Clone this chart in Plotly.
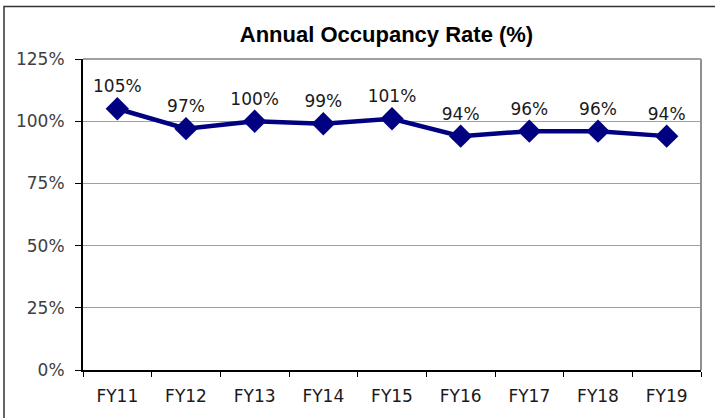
import plotly.graph_objects as go

categories = ["FY11", "FY12", "FY13", "FY14", "FY15", "FY16", "FY17", "FY18", "FY19"]
occupancy = [105, 97, 100, 99, 101, 94, 96, 96, 94]
labels = [f"{v}%" for v in occupancy]
y_ticks = [0, 25, 50, 75, 100, 125]
y_tick_labels = [f"{v}%" for v in y_ticks]

W, H = 715, 418
L, R, T, B = 83, 14, 59, 45
pw, ph = W - L - R, H - T - B

FONT = "DejaVu Sans"

fig = go.Figure()
fig.add_trace(go.Scatter(
    x=categories, y=occupancy, mode="lines+markers+text",
    text=labels, textposition="top center",
    textfont=dict(family=FONT, size=17, color="#1a1a1a"),
    line=dict(color="#000080", width=4.5),
    marker=dict(symbol="diamond", size=18, color="#000080"),
    cliponaxis=False, showlegend=False,
))

fig.update_layout(
    width=W, height=H,
    margin=dict(l=L, r=R, t=T, b=B),
    paper_bgcolor="white", plot_bgcolor="white",
    title=dict(text="<b>Annual Occupancy Rate (%)</b>", x=386.5 / W, xanchor="center",
               y=1 - 34 / H, yanchor="middle",
               font=dict(family="Liberation Sans", size=22, color="black")),
    xaxis=dict(
        type="category", range=[-0.5, 8.5],
        showline=True, linecolor="black", linewidth=2,
        ticks="outside", ticklen=5, tickcolor="black", tickson="boundaries",
        showgrid=False, mirror=False, ticklabelstandoff=10,
        tickfont=dict(family=FONT, size=17, color="#1a1a1a"),
    ),
    yaxis=dict(
        range=[0, 125], tickvals=y_ticks, ticktext=y_tick_labels,
        showline=True, linecolor="black", linewidth=2,
        ticks="outside", ticklen=6, tickcolor="black",
        showgrid=True, gridcolor="#a0a0a0", gridwidth=1,
        zeroline=False, ticklabelstandoff=7,
        tickfont=dict(family=FONT, size=17, color="#404040"),
    ),
    shapes=[
        dict(type="line", xref="paper", yref="paper", x0=1, x1=1, y0=0, y1=1,
             line=dict(color="#909090", width=2)),
        dict(type="line", xref="paper", yref="paper", x0=0, x1=1, y0=1, y1=1,
             line=dict(color="#a0a0a0", width=2)),
        dict(type="rect", xref="paper", yref="paper",
             x0=(4 - L) / pw, x1=(725 - L) / pw,
             y0=(H - B - 430) / ph, y1=(H - B - 6) / ph,
             line=dict(color="#333333", width=1.5), fillcolor="rgba(0,0,0,0)", layer="below"),
    ],
)

fig.write_html("out.html", config={"displayModeBar": False},
               post_script="document.body.style.margin='0';document.body.style.overflow='hidden';")
